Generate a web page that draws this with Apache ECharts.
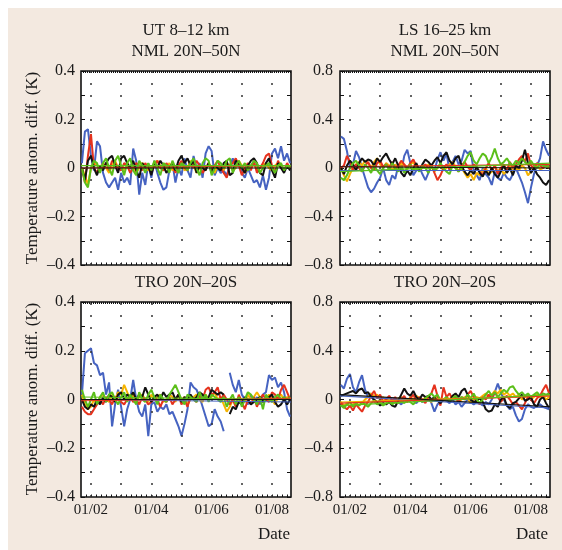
<!DOCTYPE html>
<html>
<head>
<meta charset="utf-8">
<script src="https://cdn.jsdelivr.net/npm/echarts@6/dist/echarts.min.js"></script>
<style>
  html, body { margin: 0; padding: 0; background: #ffffff; }
  #wrap { position: relative; width: 562px; height: 550px; overflow: hidden; }
  #bg { position: absolute; left: 8px; top: 8px; right: 0; bottom: 0; background: #f3e9e0; }
  #chart { position: absolute; left: 0; top: 0; width: 562px; height: 550px; }
</style>
</head>
<body>
<div id="wrap"><div id="bg"></div><div id="chart"></div></div>
<script>
// ---- time sampling (x in months: 2 = 1 Feb, 8 = 1 Aug), one value every ~3 days
const sampleStart = 1.7;
const sampleStep = 0.1;
const axisMin = 1.67;
const axisMax = 8.63;
const monthLines = [2, 3, 4, 5, 6, 7, 8];
const labelMonths = [2, 4, 6, 8];
const monthLabels = { 2: '01/02', 4: '01/04', 6: '01/06', 8: '01/08' };

// ---- UT 8–12 km, NML 20N–50N
const utNmlBlue = [
  0.02, 0.15, 0.16, 0.05, -0.01, 0.11, 0.09, -0.02, -0.06, -0.08,
  -0.06, -0.04, -0.09, -0.02, -0.06, -0.04, -0.07, 0.08, 0.03, -0.11,
  -0.02, -0.07, 0.02, -0.04, 0.03, -0.02, -0.06, -0.09, -0.08, -0.01,
  0.02, -0.06, 0.00, -0.03, 0.04, -0.01, -0.04, 0.05, 0.00, 0.02,
  -0.04, 0.06, 0.09, 0.07, -0.03, 0.00, -0.02, -0.01, -0.03, 0.01,
  0.04, 0.00, 0.02, -0.02, -0.04, 0.00, -0.03, -0.06, -0.05, -0.08,
  -0.03, -0.09, -0.04, 0.06, 0.08, 0.04, 0.09, 0.03, 0.06, 0.02
];
const utNmlOrange = [
  0.00, -0.03, -0.07, 0.00, 0.02, 0.01, -0.01, 0.02, 0.00, -0.02,
  0.01, 0.03, 0.00, 0.01, -0.01, 0.02, 0.00, 0.01, -0.02, 0.00,
  0.02, 0.01, -0.01, 0.00, 0.02, 0.03, 0.01, -0.01, 0.00, 0.02,
  -0.01, 0.00, 0.01, 0.02, -0.01, 0.00, 0.03, 0.01, -0.02, 0.00,
  0.01, -0.01, 0.02, 0.00, -0.02, 0.01, 0.00, -0.01, 0.02, 0.01,
  -0.01, 0.00, 0.03, 0.01, -0.02, 0.00, 0.01, 0.02, -0.01, 0.00,
  0.01, 0.02, 0.00, -0.01, 0.01, 0.02, 0.00, -0.01, 0.01, 0.00
];
const utNmlRed = [
  0.00, -0.06, 0.05, 0.14, 0.00, -0.02, 0.01, 0.00, 0.02, -0.01,
  0.03, 0.02, 0.00, -0.01, 0.02, 0.01, -0.02, 0.00, 0.02, 0.01,
  -0.01, 0.02, 0.00, -0.02, 0.01, 0.03, 0.00, -0.01, 0.02, 0.00,
  0.01, -0.02, 0.01, 0.03, 0.00, -0.01, 0.02, 0.00, 0.03, 0.01,
  -0.02, 0.00, 0.02, -0.01, 0.01, 0.03, 0.00, -0.02, -0.04, 0.01,
  0.02, 0.04, 0.01, -0.03, 0.00, 0.02, -0.01, 0.03, -0.02, 0.00,
  0.02, 0.05, 0.06, 0.01, -0.02, 0.03, 0.00, -0.01, 0.02, 0.00
];
const utNmlBlack = [
  0.00, -0.05, 0.03, 0.05, 0.00, -0.03, 0.01, -0.01, 0.02, 0.04,
  0.05, 0.01, -0.02, 0.04, 0.05, 0.02, 0.00, 0.03, -0.01, -0.04,
  0.02, 0.00, 0.01, -0.03, 0.02, 0.00, 0.03, 0.01, -0.02, 0.00,
  0.02, -0.01, 0.03, 0.05, 0.02, 0.04, 0.01, 0.03, -0.02, 0.01,
  0.00, -0.01, 0.02, -0.02, 0.01, 0.00, -0.01, 0.02, 0.03, -0.03,
  -0.02, 0.03, 0.02, 0.00, -0.02, 0.01, 0.03, 0.04, 0.02, -0.02,
  -0.03, 0.02, 0.04, -0.01, -0.04, 0.02, 0.00, -0.02, 0.01, -0.01
];
const utNmlGreen = [
  0.00, -0.06, -0.08, 0.00, 0.03, 0.02, -0.02, 0.02, 0.04, 0.00,
  -0.03, 0.03, 0.05, 0.01, -0.03, 0.02, 0.04, -0.01, -0.03, 0.03,
  0.01, -0.02, 0.02, -0.01, 0.03, 0.00, -0.03, 0.02, 0.01, -0.02,
  0.03, 0.00, -0.02, 0.02, 0.01, -0.01, 0.02, 0.04, 0.00, -0.03,
  0.02, 0.04, 0.03, -0.03, 0.00, 0.03, 0.02, 0.00, 0.03, 0.04,
  -0.02, 0.01, 0.03, 0.00, 0.02, -0.01, 0.01, 0.03, 0.02, -0.02,
  0.00, 0.01, 0.02, 0.00, -0.02, 0.01, 0.02, -0.01, 0.01, 0.00
];
// linear trends: [value at start, value at end]
const utNmlTrend = { red: [0.0, 0.01], green: [0.01, 0.01], black: [0.0, 0.0] };

// ---- LS 16–25 km, NML 20N–50N
const lsNmlBlue = [
  0.26, 0.24, 0.14, 0.00, 0.03, 0.14, 0.09, 0.00, -0.08, -0.16,
  -0.20, -0.17, -0.12, -0.08, 0.00, -0.10, -0.14, -0.06, -0.09, 0.02,
  -0.03, 0.10, 0.15, 0.04, -0.06, -0.02, 0.01, -0.05, -0.10, -0.04,
  0.02, -0.02, 0.07, 0.13, 0.06, 0.12, -0.02, 0.05, 0.10, 0.03,
  0.06, 0.15, 0.12, 0.14, -0.02, -0.06, -0.10, 0.00, -0.05, -0.08,
  -0.14, -0.03, -0.08, -0.10, -0.04, -0.08, -0.10, -0.05, 0.00, -0.06,
  -0.12, -0.20, -0.29, -0.16, -0.05, 0.02, 0.08, 0.22, 0.15, 0.10
];
const lsNmlOrange = [
  0.00, -0.06, -0.11, -0.05, 0.00, 0.03, 0.05, 0.02, 0.06, 0.04,
  0.00, 0.05, 0.08, 0.03, 0.00, 0.04, 0.02, -0.02, 0.03, 0.00,
  0.04, 0.02, -0.01, 0.03, 0.05, 0.00, -0.02, 0.02, 0.00, 0.03,
  0.01, -0.03, 0.00, 0.02, -0.02, 0.00, 0.03, 0.05, 0.01, -0.02,
  0.00, -0.04, -0.08, -0.05, -0.10, -0.04, -0.06, -0.02, 0.00, -0.05,
  -0.03, 0.02, -0.03, 0.00, -0.05, -0.02, 0.02, -0.03, 0.00, -0.02,
  0.02, 0.00, -0.06, -0.03, 0.00, 0.02, -0.01, 0.00, 0.02, 0.00
];
const lsNmlRed = [
  0.00, 0.02, 0.10, 0.05, -0.02, 0.03, 0.00, -0.03, 0.02, 0.05,
  0.00, -0.02, 0.04, 0.06, 0.01, 0.03, 0.00, 0.05, -0.01, 0.02,
  0.06, 0.03, 0.00, 0.04, 0.07, 0.02, -0.02, 0.00, 0.03, 0.00,
  0.02, -0.04, -0.10, -0.06, 0.00, 0.03, -0.01, 0.02, 0.00, -0.03,
  0.02, 0.05, 0.01, -0.02, 0.03, 0.00, -0.03, -0.06, 0.00, 0.04,
  -0.02, 0.02, -0.05, 0.00, 0.03, -0.02, 0.05, 0.00, 0.03, 0.07,
  0.10, 0.05, 0.12, 0.02, 0.00, 0.04, 0.02, 0.00, 0.03, 0.01
];
const lsNmlBlack = [
  0.00, -0.05, 0.02, 0.06, 0.03, -0.02, 0.04, 0.08, 0.05, 0.07,
  0.06, 0.02, 0.08, 0.05, 0.09, 0.12, 0.07, 0.03, 0.08, 0.02,
  -0.04, -0.07, -0.02, -0.06, 0.00, 0.04, -0.02, 0.03, 0.07, 0.05,
  0.02, 0.06, 0.09, 0.04, 0.10, 0.13, 0.06, 0.03, 0.08, 0.10,
  0.02, -0.03, -0.06, -0.02, -0.05, 0.01, -0.04, -0.07, -0.02, -0.06,
  0.00, -0.05, -0.08, -0.03, 0.02, -0.04, 0.00, -0.06, 0.02, 0.00,
  0.06, 0.15, 0.04, -0.04, 0.00, -0.05, -0.08, -0.12, -0.14, -0.10
];
const lsNmlGreen = [
  -0.08, -0.10, -0.06, 0.00, 0.04, 0.06, 0.02, -0.03, 0.03, 0.00,
  -0.04, 0.02, -0.02, -0.05, 0.00, 0.03, -0.02, 0.04, 0.00, -0.03,
  0.02, -0.04, 0.00, 0.03, -0.02, 0.00, -0.03, 0.02, 0.00, -0.04,
  0.02, -0.02, 0.00, 0.04, 0.00, -0.03, -0.05, 0.02, 0.00, -0.03,
  0.00, 0.05, 0.10, 0.13, 0.06, 0.03, 0.08, 0.12, 0.10, 0.04,
  0.09, 0.16, 0.08, 0.03, 0.05, 0.08, 0.04, 0.02, 0.06, 0.04,
  0.08, 0.05, 0.03, 0.06, 0.02, 0.00, 0.03, 0.02, 0.01, 0.02
];
const lsNmlTrend = { blue: [-0.02, -0.02], red: [0.01, 0.03], green: [-0.03, 0.04], black: [0.01, 0.0] };

// ---- UT 8–12 km, TRO 20N–20S (null = no data)
const utTroBlue = [
  0.02, 0.19, 0.20, 0.21, 0.15, 0.14, 0.10, 0.11, 0.02, 0.07,
  -0.11, -0.02, 0.04, -0.03, -0.11, -0.04, 0.00, 0.08, 0.00, -0.05,
  -0.07, -0.02, -0.15, -0.02, -0.01, -0.05, -0.03, -0.04, -0.02, -0.06,
  -0.05, -0.08, -0.11, -0.15, -0.10, -0.04, 0.07, 0.05, 0.04, 0.01,
  -0.03, -0.07, -0.11, -0.10, -0.04, -0.07, -0.09, -0.13, null, 0.11,
  0.06, 0.03, 0.08, 0.02, 0.00, -0.02, 0.02, -0.01, 0.01, -0.02,
  0.02, 0.03, 0.10, 0.08, 0.09, 0.05, 0.07, 0.03, -0.04, -0.07
];
const utTroOrange = [
  0.02, -0.02, -0.04, -0.03, 0.00, -0.02, 0.01, 0.02, 0.00, -0.01,
  0.02, 0.00, 0.03, 0.02, 0.06, 0.03, 0.00, 0.02, -0.01, 0.01,
  0.02, 0.00, -0.01, 0.02, 0.00, 0.01, 0.02, -0.01, 0.00, 0.02,
  0.01, -0.01, 0.02, 0.00, 0.01, -0.02, 0.00, 0.01, 0.02, 0.00,
  -0.01, 0.02, 0.00, 0.01, 0.03, 0.00, 0.01, -0.02, -0.05, -0.03,
  0.00, -0.02, 0.01, 0.00, -0.01, 0.02, 0.00, 0.01, 0.03, 0.01,
  -0.01, 0.00, 0.02, 0.00, -0.02, 0.01, 0.02, 0.00, 0.01, 0.00
];
const utTroRed = [
  -0.03, -0.05, -0.06, -0.06, -0.04, -0.02, 0.00, -0.02, 0.01, 0.00,
  -0.02, 0.01, 0.00, -0.01, -0.02, 0.00, 0.01, -0.01, 0.00, -0.02,
  0.01, 0.00, -0.02, -0.01, 0.01, 0.00, -0.03, 0.00, -0.01, 0.01,
  -0.02, 0.00, 0.02, -0.02, 0.00, -0.03, 0.01, 0.00, -0.01, 0.02,
  0.00, 0.04, 0.05, 0.02, 0.03, 0.05, 0.00, 0.02, 0.00, -0.02,
  0.00, -0.03, 0.02, -0.01, -0.04, 0.00, -0.02, 0.01, -0.03, 0.00,
  0.02, 0.00, -0.01, 0.03, 0.02, 0.00, 0.04, 0.06, 0.03, 0.00
];
const utTroBlack = [
  0.00, -0.03, -0.04, -0.02, -0.03, 0.00, -0.02, 0.01, -0.01, 0.02,
  0.01, -0.01, 0.02, 0.03, 0.00, 0.02, 0.01, 0.03, 0.00, 0.02,
  0.01, 0.05, 0.02, -0.01, 0.01, 0.02, 0.00, 0.03, 0.01, 0.02,
  0.03, 0.00, 0.02, -0.01, 0.01, 0.00, 0.02, 0.00, 0.01, 0.03,
  0.02, 0.00, 0.01, 0.04, 0.03, 0.02, 0.03, 0.02, null, -0.06,
  -0.03, -0.04, -0.01, -0.02, 0.01, 0.00, -0.02, -0.01, 0.00, 0.01,
  -0.01, 0.00, 0.01, 0.02, -0.01, -0.03, -0.02, 0.00, -0.02, 0.00
];
const utTroGreen = [
  0.04, 0.00, -0.03, 0.00, 0.03, -0.02, 0.01, 0.03, -0.01, 0.02,
  0.03, 0.00, -0.02, 0.01, 0.03, -0.01, 0.02, 0.00, -0.02, 0.03,
  0.00, -0.01, 0.02, 0.04, 0.01, -0.02, 0.02, 0.00, -0.01, 0.02,
  0.04, 0.06, 0.03, 0.00, -0.02, 0.02, 0.01, 0.00, -0.01, 0.03,
  0.00, 0.02, -0.01, 0.02, 0.01, 0.00, -0.01, 0.01, -0.03, 0.00,
  0.02, -0.02, 0.01, -0.03, 0.00, 0.03, 0.02, 0.00, -0.02, 0.01,
  -0.04, 0.02, 0.00, -0.01, 0.01, 0.02, 0.00, 0.01, 0.00, 0.01
];
const utTroTrend = { blue: [0.0, -0.01], red: [-0.005, 0.005], green: [0.01, 0.0], black: [0.0, 0.0] };

// ---- LS 16–25 km, TRO 20N–20S
const lsTroBlue = [
  0.12, 0.09, 0.17, 0.21, 0.10, 0.06, 0.14, 0.20, 0.08, 0.02,
  0.05, -0.02, -0.03, 0.00, -0.02, 0.01, -0.01, -0.03, 0.00, -0.02,
  -0.04, 0.00, -0.02, 0.01, -0.01, -0.03, 0.00, -0.02, -0.01, 0.02,
  -0.03, -0.10, -0.04, -0.02, 0.00, -0.01, -0.03, 0.00, -0.04, -0.02,
  -0.06, -0.03, 0.00, -0.02, -0.04, -0.02, -0.03, -0.05, -0.02, -0.04,
  0.00, 0.06, 0.13, 0.06, 0.00, -0.05, -0.08, -0.06, -0.13, -0.18,
  -0.16, -0.08, -0.04, -0.06, -0.07, -0.05, -0.04, -0.06, -0.07, -0.08
];
const lsTroOrange = [
  -0.02, -0.05, -0.03, -0.06, -0.04, -0.02, -0.05, -0.03, 0.00, 0.02,
  0.05, 0.03, 0.04, 0.00, 0.02, -0.02, 0.01, 0.00, -0.03, 0.01,
  0.02, 0.00, -0.02, 0.02, 0.00, 0.03, 0.01, -0.01, 0.02, 0.00,
  -0.02, 0.01, 0.03, 0.00, -0.01, 0.02, 0.00, 0.03, 0.01, -0.02,
  0.00, 0.02, 0.01, -0.03, 0.00, 0.02, 0.01, 0.03, 0.05, 0.02,
  0.04, 0.07, 0.05, 0.08, 0.04, 0.06, 0.03, 0.05, 0.02, 0.04,
  0.00, 0.02, 0.03, 0.00, 0.02, 0.04, 0.02, 0.03, 0.00, 0.02
];
const lsTroRed = [
  -0.03, -0.06, -0.08, -0.05, -0.09, -0.04, -0.07, -0.10, -0.05, -0.02,
  0.03, 0.07, 0.01, 0.04, -0.02, 0.00, 0.03, -0.01, 0.02, -0.03,
  0.00, 0.03, -0.02, 0.01, 0.04, -0.01, 0.02, 0.00, -0.03, 0.02,
  0.05, 0.12, 0.03, -0.05, 0.10, 0.02, 0.05, 0.00, 0.03, -0.02,
  0.02, 0.00, 0.04, 0.07, 0.02, -0.01, -0.04, 0.02, 0.00, 0.04,
  0.01, 0.06, 0.02, -0.02, 0.01, 0.03, 0.00, -0.04, -0.02, -0.05,
  -0.08, -0.03, 0.02, 0.00, -0.03, 0.01, 0.03, 0.08, 0.12, 0.05
];
const lsTroBlack = [
  0.03, 0.04, 0.05, 0.06, 0.07, 0.05, 0.08, 0.09, 0.05, 0.06,
  0.02, 0.00, -0.02, -0.05, -0.03, -0.04, -0.02, -0.05, -0.06, -0.01,
  0.04, 0.09, 0.05, 0.03, 0.07, 0.02, 0.00, 0.04, 0.02, 0.03,
  0.00, 0.02, -0.01, -0.03, 0.00, 0.01, -0.02, 0.03, 0.05, 0.02,
  0.07, 0.09, 0.04, 0.00, -0.02, -0.01, 0.01, -0.02, -0.08, -0.10,
  -0.09, -0.04, -0.06, 0.00, 0.02, -0.05, -0.07, -0.03, -0.02, 0.01,
  0.04, -0.01, 0.00, 0.02, -0.04, -0.06, 0.00, 0.02, -0.03, -0.07
];
const lsTroGreen = [
  -0.05, -0.07, -0.04, -0.02, -0.06, -0.03, -0.05, -0.02, -0.04, -0.06,
  -0.03, -0.01, -0.04, -0.02, -0.05, -0.03, -0.01, -0.04, -0.02, -0.03,
  -0.01, -0.03, 0.00, -0.02, -0.04, -0.01, 0.00, -0.02, 0.01, 0.03,
  0.05, 0.02, 0.04, -0.01, 0.00, 0.02, -0.01, 0.01, 0.03, 0.00,
  0.02, 0.00, 0.04, 0.01, 0.05, 0.00, -0.03, 0.00, 0.04, 0.07,
  0.03, 0.06, 0.02, 0.05, 0.08, 0.06, 0.10, 0.11, 0.07, 0.04,
  0.06, 0.03, 0.05, 0.02, 0.04, 0.06, 0.03, 0.05, 0.04, 0.05
];
const lsTroTrend = { blue: [0.03, -0.07], orange: [-0.02, 0.03], red: [-0.03, 0.03], green: [-0.05, 0.04], black: [0.04, -0.06] };

// ---- styling
const lineColors = { blue: '#4663c1', orange: '#f6b400', red: '#e5321d', black: '#111111', green: '#5cbf1a' };
const drawOrder = ['blue', 'orange', 'red', 'black', 'green'];
const serifFont = '"Liberation Serif", "DejaVu Serif", serif';
const inkColor = '#1a1a1a';

const sampleMonths = utNmlBlue.map((_, i) => +(sampleStart + i * sampleStep).toFixed(3));

// fine tick positions along the bottom and top frame edges
const bottomTicks = [];
for (let m = 1.0 + 1 / 6; m < axisMax; m += 1 / 6) if (m > axisMin) bottomTicks.push(+m.toFixed(4));
const topTicks = [];
for (let m = 1.0 + 1 / 15; m < axisMax; m += 1 / 15) if (m > axisMin) topTicks.push(+m.toFixed(4));

const panels = [
  { box: { left: 81, top: 71, width: 210, height: 194 }, yMax: 0.4, yTick: 0.1, yLabelStep: 0.2, xLabels: false, yLabelMargin: 6,
    lines: { blue: utNmlBlue, orange: utNmlOrange, red: utNmlRed, black: utNmlBlack, green: utNmlGreen }, trend: utNmlTrend },
  { box: { left: 340, top: 71, width: 210, height: 194 }, yMax: 0.8, yTick: 0.2, yLabelStep: 0.4, xLabels: false, yLabelMargin: 7,
    lines: { blue: lsNmlBlue, orange: lsNmlOrange, red: lsNmlRed, black: lsNmlBlack, green: lsNmlGreen }, trend: lsNmlTrend },
  { box: { left: 81, top: 302, width: 210, height: 195 }, yMax: 0.4, yTick: 0.1, yLabelStep: 0.2, xLabels: true, yLabelMargin: 6,
    lines: { blue: utTroBlue, orange: utTroOrange, red: utTroRed, black: utTroBlack, green: utTroGreen }, trend: utTroTrend },
  { box: { left: 340, top: 302, width: 210, height: 195 }, yMax: 0.8, yTick: 0.2, yLabelStep: 0.4, xLabels: true, yLabelMargin: 7,
    lines: { blue: lsTroBlue, orange: lsTroOrange, red: lsTroRed, black: lsTroBlack, green: lsTroGreen }, trend: lsTroTrend }
];

function fmtY(v) {
  if (Math.abs(v) < 1e-9) return '0';
  return (v < 0 ? '\u2013' : '') + Math.abs(v).toFixed(1);
}

const grid = [], xAxis = [], yAxis = [], series = [];
const tickStyle = { color: '#111', width: 1 };

panels.forEach((p, pi) => {
  grid.push(Object.assign({ show: true, backgroundColor: '#ffffff', borderColor: '#111', borderWidth: 1.6 }, p.box));

  // bottom axis (labels + ticks), kept on the frame edge
  xAxis.push({
    type: 'value', gridIndex: pi, position: 'bottom', min: axisMin, max: axisMax,
    axisLine: { show: false, onZero: false }, splitLine: { show: false },
    axisTick: { show: true, inside: true, length: 2.5, lineStyle: tickStyle, customValues: bottomTicks },
    axisLabel: {
      show: p.xLabels, customValues: labelMonths, margin: 6,
      formatter: v => monthLabels[Math.round(v)] || '',
      fontFamily: serifFont, fontSize: 15, color: inkColor
    }
  });
  // top axis (fine ticks only)
  xAxis.push({
    type: 'value', gridIndex: pi, position: 'top', min: axisMin, max: axisMax,
    axisLine: { show: false, onZero: false }, splitLine: { show: false }, axisLabel: { show: false },
    axisTick: { show: true, inside: true, length: 2, lineStyle: tickStyle, customValues: topTicks }
  });
  // left axis
  yAxis.push({
    type: 'value', gridIndex: pi, position: 'left', min: -p.yMax, max: p.yMax, interval: p.yTick,
    axisLine: { show: false, onZero: false }, splitLine: { show: false },
    axisTick: { show: true, inside: true, length: 4, lineStyle: tickStyle },
    axisLabel: {
      margin: p.yLabelMargin, fontFamily: serifFont, fontSize: 16, color: inkColor,
      formatter: v => {
        const k = v / p.yLabelStep;
        return Math.abs(k - Math.round(k)) < 1e-6 ? fmtY(v) : '';
      }
    }
  });
  // right axis (mirrored ticks)
  yAxis.push({
    type: 'value', gridIndex: pi, position: 'right', min: -p.yMax, max: p.yMax, interval: p.yTick,
    axisLine: { show: false, onZero: false }, splitLine: { show: false }, axisLabel: { show: false },
    axisTick: { show: true, inside: true, length: 4, lineStyle: tickStyle }
  });

  drawOrder.forEach((key, k) => {
    const s = {
      type: 'line', xAxisIndex: 2 * pi, yAxisIndex: 2 * pi, name: key,
      data: sampleMonths.map((m, i) => [m, p.lines[key][i] === null ? '-' : p.lines[key][i]]),
      showSymbol: false, connectNulls: false, silent: true, animation: false,
      lineStyle: { color: lineColors[key], width: 2 }, z: 3 + k
    };
    if (k === 0) {
      // monthly dotted guide lines
      s.markLine = {
        silent: true, symbol: ['none', 'none'], animation: false,
        label: { show: false },
        lineStyle: { color: '#333', width: 1.5, type: [2, 10] },
        data: monthLines.map(m => ({ xAxis: m }))
      };
    }
    series.push(s);
  });

  Object.keys(p.trend).forEach(key => {
    const t = p.trend[key];
    series.push({
      type: 'line', xAxisIndex: 2 * pi, yAxisIndex: 2 * pi, name: key + ' trend',
      data: [[axisMin, t[0]], [axisMax, t[1]]],
      showSymbol: false, silent: true, animation: false, z: 10,
      lineStyle: { color: lineColors[key], width: 1.1 }
    });
  });
});

function label(text, x, y, extra) {
  return Object.assign({
    type: 'text', x: x, y: y, silent: true,
    style: { text: text, font: '17px ' + serifFont, fill: inkColor, align: 'center', verticalAlign: 'middle' }
  }, extra || {});
}

const graphic = [
  label('UT 8\u201312 km', 186, 31),
  label('NML 20N\u201350N', 186, 52),
  label('LS 16\u201325 km', 445, 31),
  label('NML 20N\u201350N', 445, 52),
  label('TRO 20N\u201320S', 186, 283),
  label('TRO 20N\u201320S', 445, 283),
  label('Temperature anom. diff. (K)', 33, 168, { rotation: Math.PI / 2 }),
  label('Temperature anom. diff. (K)', 33, 399, { rotation: Math.PI / 2 }),
  label('Date', 274, 535),
  label('Date', 532, 535)
];

const chart = echarts.init(document.getElementById('chart'), null, { renderer: 'canvas' });
chart.setOption({
  backgroundColor: 'transparent',
  animation: false,
  grid: grid,
  xAxis: xAxis,
  yAxis: yAxis,
  series: series,
  graphic: graphic
});
</script>
</body>
</html>
